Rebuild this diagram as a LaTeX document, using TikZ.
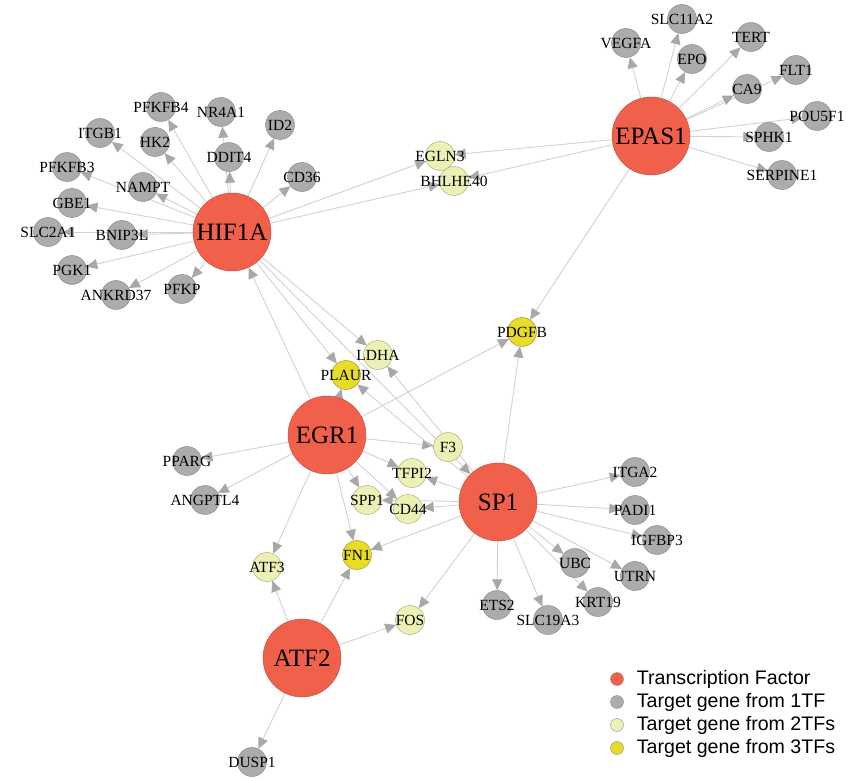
\documentclass[tikz,border=0pt]{standalone}
\usepackage{fontspec}
\setmainfont{Liberation Serif}
\newfontfamily\legendfont{Liberation Sans}
\usetikzlibrary{arrows.meta,backgrounds,positioning}
\definecolor{tfred}{RGB}{241,96,74}
\definecolor{tfborder}{RGB}{185,75,62}
\definecolor{grayfill}{RGB}{172,172,172}
\definecolor{grayborder}{RGB}{128,128,128}
\definecolor{lyfill}{RGB}{236,240,180}
\definecolor{lyborder}{RGB}{160,165,115}
\definecolor{yfill}{RGB}{232,220,40}
\definecolor{yborder}{RGB}{150,140,40}
\definecolor{linkgray}{RGB}{210,210,210}
\definecolor{tipgray}{RGB}{168,168,168}
\begin{document}
\begin{tikzpicture}[x=1pt, y=-1pt,
  tf/.style={circle, draw=tfborder, fill=tfred, minimum size=78pt, inner sep=0pt, font=\fontsize{25}{30}\selectfont},
  gene/.style={circle, minimum size=29pt, inner sep=0pt, label={[inner sep=0pt, font=\fontsize{15.5}{18}\selectfont]center:#1}},
  tgone/.style={gene=#1, draw=grayborder, fill=grayfill},
  tgtwo/.style={gene=#1, draw=lyborder, fill=lyfill},
  tgthree/.style={gene=#1, draw=yborder, fill=yfill},
  link/.style={draw=linkgray, line width=0.9pt, -{Triangle[length=11pt, width=10pt, color=tipgray]}},
  legdot/.style={circle, draw=black!45, minimum size=13pt, inner sep=0pt},
  legtext/.style={inner sep=0pt, font=\legendfont\fontsize{19.6}{23}\selectfont}]
\useasboundingbox (0,0) rectangle (859,781);
\node (HIF1A)[tf] at (232,232) {HIF1A};
\node (EPAS1)[tf] at (651,136) {EPAS1};
\node (EGR1)[tf] at (327,435) {EGR1};
\node (SP1)[tf] at (498,502) {SP1};
\node (ATF2)[tf] at (302,658) {ATF2};
\node (PFKFB4)[tgone=PFKFB4] at (161,107) {};
\node (NR4A1)[tgone=NR4A1] at (221,112) {};
\node (ID2)[tgone=ID2] at (280,125) {};
\node (ITGB1)[tgone=ITGB1] at (100,133) {};
\node (HK2)[tgone=HK2] at (155,142) {};
\node (DDIT4)[tgone=DDIT4] at (229,157) {};
\node (PFKFB3)[tgone=PFKFB3] at (67,167) {};
\node (CD36)[tgone=CD36] at (302,177) {};
\node (NAMPT)[tgone=NAMPT] at (143,187) {};
\node (GBE1)[tgone=GBE1] at (72,203) {};
\node (SLC2A1)[tgone=SLC2A1] at (48,232) {};
\node (BNIP3L)[tgone=BNIP3L] at (122,235) {};
\node (PGK1)[tgone=PGK1] at (72,270) {};
\node (PFKP)[tgone=PFKP] at (182,289) {};
\node (ANKRD37)[tgone=ANKRD37] at (116,295) {};
\node (VEGFA)[tgone=VEGFA] at (626,43) {};
\node (SLC11A2)[tgone=SLC11A2] at (682,19) {};
\node (EPO)[tgone=EPO] at (692,59) {};
\node (TERT)[tgone=TERT] at (751,37) {};
\node (FLT1)[tgone=FLT1] at (796,70) {};
\node (CA9)[tgone=CA9] at (747,89) {};
\node (POU5F1)[tgone=POU5F1] at (817,116) {};
\node (SPHK1)[tgone=SPHK1] at (769,137) {};
\node (SERPINE1)[tgone=SERPINE1] at (782,175) {};
\node (EGLN3)[tgtwo=EGLN3] at (440,156) {};
\node (BHLHE40)[tgtwo=BHLHE40] at (454,181) {};
\node (PDGFB)[tgthree=PDGFB] at (522,332) {};
\node (LDHA)[tgtwo=LDHA] at (378,355) {};
\node (PLAUR)[tgthree=PLAUR] at (346,375) {};
\node (F3)[tgtwo=F3] at (448,447) {};
\node (TFPI2)[tgtwo=TFPI2] at (412,473) {};
\node (SPP1)[tgtwo=SPP1] at (367,500) {};
\node (CD44)[tgtwo=CD44] at (408,509) {};
\node (PPARG)[tgone=PPARG] at (187,461) {};
\node (ANGPTL4)[tgone=ANGPTL4] at (205,500) {};
\node (ITGA2)[tgone=ITGA2] at (635,472) {};
\node (PADI1)[tgone=PADI1] at (635,510) {};
\node (IGFBP3)[tgone=IGFBP3] at (657,540) {};
\node (UBC)[tgone=UBC] at (575,563) {};
\node (UTRN)[tgone=UTRN] at (635,576) {};
\node (KRT19)[tgone=KRT19] at (598,602) {};
\node (ETS2)[tgone=ETS2] at (497,605) {};
\node (SLC19A3)[tgone=SLC19A3] at (548,620) {};
\node (ATF3)[tgtwo=ATF3] at (267,567) {};
\node (FN1)[tgthree=FN1] at (357,555) {};
\node (FOS)[tgtwo=FOS] at (410,620) {};
\node (DUSP1)[tgone=DUSP1] at (252,762) {};
\node (ltf)[legdot, fill=tfred] at (617,679) {};
\node (lone)[legdot, fill=grayfill] at (617,702) {};
\node (ltwo)[legdot, fill=lyfill] at (617,725) {};
\node (lthree)[legdot, fill=yfill] at (617,748) {};
\node (ttf)[legtext, right=13pt of ltf] {Transcription Factor};
\node (tone)[legtext, right=13pt of lone] {Target gene from 1TF};
\node (ttwo)[legtext, right=13pt of ltwo] {Target gene from 2TFs};
\node (tthree)[legtext, right=13pt of lthree] {Target gene from 3TFs};
\begin{scope}[on background layer]
\fill[white] (0,0) rectangle (859,781);
\draw[link] (HIF1A) -- (PFKFB4);
\draw[link] (HIF1A) -- (NR4A1);
\draw[link] (HIF1A) -- (ID2);
\draw[link] (HIF1A) -- (ITGB1);
\draw[link] (HIF1A) -- (HK2);
\draw[link] (HIF1A) -- (DDIT4);
\draw[link] (HIF1A) -- (PFKFB3);
\draw[link] (HIF1A) -- (CD36);
\draw[link] (HIF1A) -- (NAMPT);
\draw[link] (HIF1A) -- (GBE1);
\draw[link] (HIF1A) -- (SLC2A1);
\draw[link] (HIF1A) -- (BNIP3L);
\draw[link] (HIF1A) -- (PGK1);
\draw[link] (HIF1A) -- (PFKP);
\draw[link] (HIF1A) -- (ANKRD37);
\draw[link] (HIF1A) -- (EGLN3);
\draw[link] (HIF1A) -- (BHLHE40);
\draw[link] (HIF1A) -- (LDHA);
\draw[link] (HIF1A) -- (PLAUR);
\draw[link] (HIF1A) -- (SP1);
\draw[link] (EPAS1) -- (VEGFA);
\draw[link] (EPAS1) -- (SLC11A2);
\draw[link] (EPAS1) -- (EPO);
\draw[link] (EPAS1) -- (TERT);
\draw[link] (EPAS1) -- (FLT1);
\draw[link] (EPAS1) -- (CA9);
\draw[link] (EPAS1) -- (POU5F1);
\draw[link] (EPAS1) -- (SPHK1);
\draw[link] (EPAS1) -- (SERPINE1);
\draw[link] (EPAS1) -- (EGLN3);
\draw[link] (EPAS1) -- (BHLHE40);
\draw[link] (EPAS1) -- (PDGFB);
\draw[link] (EGR1) -- (HIF1A);
\draw[link] (EGR1) -- (PLAUR);
\draw[link] (EGR1) -- (PDGFB);
\draw[link] (EGR1) -- (F3);
\draw[link] (EGR1) -- (TFPI2);
\draw[link] (EGR1) -- (SPP1);
\draw[link] (EGR1) -- (CD44);
\draw[link] (EGR1) -- (PPARG);
\draw[link] (EGR1) -- (ANGPTL4);
\draw[link] (EGR1) -- (FN1);
\draw[link] (EGR1) -- (ATF3);
\draw[link] (SP1) -- (PDGFB);
\draw[link] (SP1) -- (LDHA);
\draw[link] (SP1) -- (PLAUR);
\draw[link] (SP1) -- (TFPI2);
\draw[link] (SP1) -- (CD44);
\draw[link] (SP1) -- (SPP1);
\draw[link] (SP1) -- (FN1);
\draw[link] (SP1) -- (FOS);
\draw[link] (SP1) -- (ITGA2);
\draw[link] (SP1) -- (PADI1);
\draw[link] (SP1) -- (IGFBP3);
\draw[link] (SP1) -- (UBC);
\draw[link] (SP1) -- (UTRN);
\draw[link] (SP1) -- (KRT19);
\draw[link] (SP1) -- (ETS2);
\draw[link] (SP1) -- (SLC19A3);
\draw[link] (ATF2) -- (ATF3);
\draw[link] (ATF2) -- (FN1);
\draw[link] (ATF2) -- (FOS);
\draw[link] (ATF2) -- (DUSP1);
\end{scope}
\end{tikzpicture}
\end{document}
